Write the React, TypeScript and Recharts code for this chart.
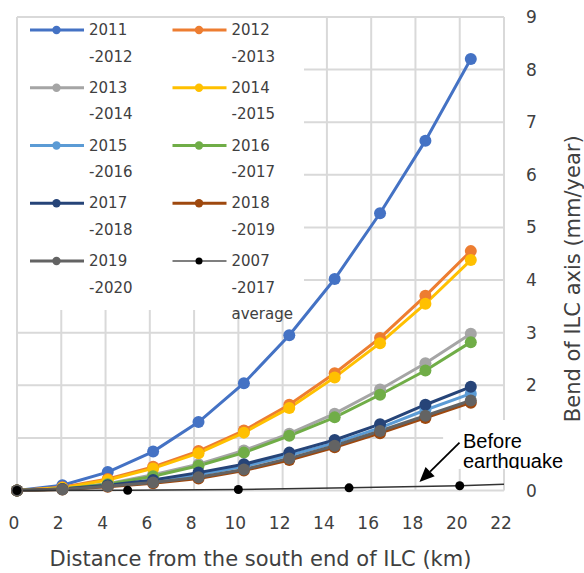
import { LineChart, Line, XAxis, YAxis, CartesianGrid, Legend, ReferenceLine, Label } from 'recharts';

// distance from the south end (km) of each measured point
const distanceKm = [0, 2.05, 4.1, 6.15, 8.2, 10.25, 12.3, 14.35, 16.4, 18.45, 20.5];

// bend of the ILC axis (mm/year), one list per period
const bend2011 = [0, 0.1, 0.35, 0.74, 1.3, 2.04, 2.95, 4.02, 5.27, 6.65, 8.2];
const bend2012 = [0, 0.06, 0.22, 0.45, 0.75, 1.14, 1.63, 2.23, 2.9, 3.7, 4.55];
const bend2013 = [0, 0.04, 0.13, 0.3, 0.5, 0.76, 1.08, 1.46, 1.92, 2.42, 2.98];
const bend2014 = [0, 0.05, 0.2, 0.42, 0.71, 1.1, 1.57, 2.15, 2.8, 3.55, 4.38];
const bend2015 = [0, 0.03, 0.09, 0.18, 0.3, 0.46, 0.67, 0.9, 1.19, 1.53, 1.84];
const bend2016 = [0, 0.03, 0.12, 0.27, 0.47, 0.72, 1.04, 1.39, 1.82, 2.28, 2.82];
const bend2017 = [0, 0.03, 0.1, 0.2, 0.34, 0.5, 0.72, 0.96, 1.26, 1.63, 1.97];
const bend2018 = [0, 0.02, 0.07, 0.14, 0.23, 0.38, 0.58, 0.82, 1.09, 1.38, 1.67];
const bend2019 = [0, 0.02, 0.08, 0.15, 0.25, 0.4, 0.61, 0.85, 1.13, 1.42, 1.71];

// 2007-2017 average (before the earthquake)
const avgDistanceKm = [0, 5, 10, 15, 20, 22];
const avgBend = [0, 0.005, 0.02, 0.05, 0.09, 0.12];

const xTicks = [0, 2, 4, 6, 8, 10, 12, 14, 16, 18, 20, 22];
const yTicks = [0, 1, 2, 3, 4, 5, 6, 7, 8, 9];

// arrow of the "Before earthquake" note: [tail, head] in km / mm per year
const arrowPoints = [
  { x: 19.99, y: 0.91 },
  { x: 18.18, y: 0.16 },
];
// white box behind the note text, in km / mm per year
const noteBox = { x1: 19.25, x2: 22, y1: 0.41, y2: 1.34 };

const series = [
  { key: 's2011', values: bend2011, label: ['2011', '-2012'], color: '#4472C4' },
  { key: 's2012', values: bend2012, label: ['2012', '-2013'], color: '#ED7D31' },
  { key: 's2013', values: bend2013, label: ['2013', '-2014'], color: '#A5A5A5' },
  { key: 's2014', values: bend2014, label: ['2014', '-2015'], color: '#FFC000' },
  { key: 's2015', values: bend2015, label: ['2015', '-2016'], color: '#5B9BD5' },
  { key: 's2016', values: bend2016, label: ['2016', '-2017'], color: '#70AD47' },
  { key: 's2017', values: bend2017, label: ['2017', '-2018'], color: '#264478' },
  { key: 's2018', values: bend2018, label: ['2018', '-2019'], color: '#9E480E' },
  { key: 's2019', values: bend2019, label: ['2019', '-2020'], color: '#636363' },
];
const avgLabel = ['2007', '-2017', 'average'];

const rows = distanceKm.map((x, i) => {
  const row: Record<string, number> = { x };
  series.forEach((s) => {
    row[s.key] = s.values[i];
  });
  return row;
});
const avgRows = avgDistanceKm.map((x, i) => ({ x, bend: avgBend[i] }));

const textColor = '#404040';

function LegendBox() {
  const items = [...series.map((s) => ({ label: s.label, color: s.color, thin: false })), { label: avgLabel, color: '#000', thin: true }];
  return (
    <svg width={286} height={300} style={{ overflow: 'visible', display: 'block' }}>
      {items.map((it, i) => {
        const col = i % 2;
        const row = Math.floor(i / 2);
        const x0 = col === 0 ? 12 : 154.5;
        const cy = 12 + row * 57.75;
        return (
          <g key={i}>
            <line x1={x0} x2={x0 + 54} y1={cy} y2={cy} stroke={it.color} strokeWidth={it.thin ? 1.2 : 3} />
            <circle cx={x0 + 26.5} cy={cy} r={it.thin ? 3.5 : 4.2} fill={it.color} />
            {it.label.map((t, j) => (
              <text key={j} x={x0 + 59} y={cy + j * 26.5} dominantBaseline="central" fontSize={15} fill={textColor}>
                {t}
              </text>
            ))}
          </g>
        );
      })}
    </svg>
  );
}

// arrow plus the white note box under it; the box is placed with the same
// scale as the arrow end points
function Arrow(p: any) {
  const { x1, y1, x2, y2 } = p;
  const kx = (x2 - x1) / (arrowPoints[1].x - arrowPoints[0].x);
  const ky = (y2 - y1) / (arrowPoints[1].y - arrowPoints[0].y);
  const bx1 = x1 + (noteBox.x1 - arrowPoints[0].x) * kx;
  const bx2 = x1 + (noteBox.x2 - arrowPoints[0].x) * kx;
  const by1 = y1 + (noteBox.y2 - arrowPoints[0].y) * ky;
  const by2 = y1 + (noteBox.y1 - arrowPoints[0].y) * ky;
  const dx = x2 - x1;
  const dy = y2 - y1;
  const len = Math.hypot(dx, dy) || 1;
  const ux = dx / len;
  const uy = dy / len;
  const hl = 15;
  const hw = 6.5;
  const bx = x2 - ux * hl;
  const by = y2 - uy * hl;
  return (
    <g>
      <rect x={bx1} y={by1} width={bx2 - bx1} height={by2 - by1} fill="#fff" />
      <line x1={x1} y1={y1} x2={bx} y2={by} stroke="#000" strokeWidth={1.8} />
      <polygon points={`${x2},${y2} ${bx - uy * hw},${by + ux * hw} ${bx + uy * hw},${by - ux * hw}`} fill="#000" />
    </g>
  );
}

function YTitle(props: any) {
  const vb = props.viewBox || {};
  const cx = vb.x + 69;
  const cy = vb.y + vb.height / 2 + 25;
  return (
    <text
      x={cx}
      y={cy}
      transform={`rotate(-90 ${cx} ${cy})`}
      textAnchor="middle"
      dominantBaseline="central"
      fontSize={21}
      fill={textColor}
    >
      Bend of ILC axis (mm/year)
    </text>
  );
}

function AvgDot(p: any) {
  if (p.index === avgRows.length - 1) return <g key={`d${p.index}`} />;
  return <circle key={`d${p.index}`} cx={p.cx} cy={p.cy} r={4.5} fill="#000" />;
}

export default function App() {
  return (
    <div
      style={{
        position: 'absolute',
        left: 0,
        top: 0,
        width: 584,
        height: 573,
        background: '#fff',
        fontFamily: '"DejaVu Sans", sans-serif',
      }}
    >
      <LineChart width={584} height={573} data={rows} margin={{ top: 17, right: 20, left: 17, bottom: 52.5 }}>
        <CartesianGrid stroke="#d9d9d9" strokeWidth={2} />
        <XAxis
          dataKey="x"
          type="number"
          domain={[0, 22]}
          ticks={xTicks}
          axisLine={false}
          tickLine={false}
          tickSize={0}
          tickMargin={26}
          height={30}
          tick={{ fontSize: 17, fill: textColor, dx: -3 }}
          interval={0}
        >
          <Label value="Distance from the south end of ILC (km)" position="bottom" offset={31} fontSize={21} fill={textColor} />
        </XAxis>
        <YAxis
          orientation="right"
          type="number"
          domain={[0, 9]}
          ticks={yTicks}
          axisLine={false}
          tickLine={false}
          tickSize={0}
          tickMargin={22}
          width={60}
          tick={{ fontSize: 17, fill: textColor }}
          interval={0}
        >
          <Label content={YTitle} />
        </YAxis>
        <Legend
          layout="vertical"
          align="center"
          verticalAlign="middle"
          content={() => <LegendBox />}
          wrapperStyle={{ left: 18, top: 18, width: 286, height: 292, background: '#fff' }}
        />
        {series.map((s) => (
          <Line
            key={s.key}
            type="linear"
            dataKey={s.key}
            stroke={s.color}
            strokeWidth={3}
            dot={{ r: 6, fill: s.color, stroke: s.color, strokeWidth: 0 }}
            activeDot={false}
            isAnimationActive={false}
          />
        ))}
        <Line
          data={avgRows}
          type="linear"
          dataKey="bend"
          stroke="#333"
          strokeWidth={1.5}
          dot={AvgDot}
          activeDot={false}
          isAnimationActive={false}
        />
        <ReferenceLine segment={arrowPoints} shape={Arrow} ifOverflow="visible" />
      </LineChart>
      {/* the note box also hides the right-axis "1", as in the source */}
      <div
        style={{
          position: 'absolute',
          left: 504,
          top: 420,
          width: 52,
          height: 49,
          background: '#fff',
        }}
      />
      <div
        style={{
          position: 'absolute',
          left: 443,
          top: 420,
          width: 141,
          height: 49,
          overflow: 'hidden',
          fontFamily: '"Liberation Sans", Arial, sans-serif',
          fontSize: 20,
          lineHeight: '20px',
          color: '#000',
          paddingLeft: 20,
          paddingTop: 11,
          boxSizing: 'border-box',
          pointerEvents: 'none',
        }}
      >
        Before
        <br />
        earthquake
      </div>
    </div>
  );
}
